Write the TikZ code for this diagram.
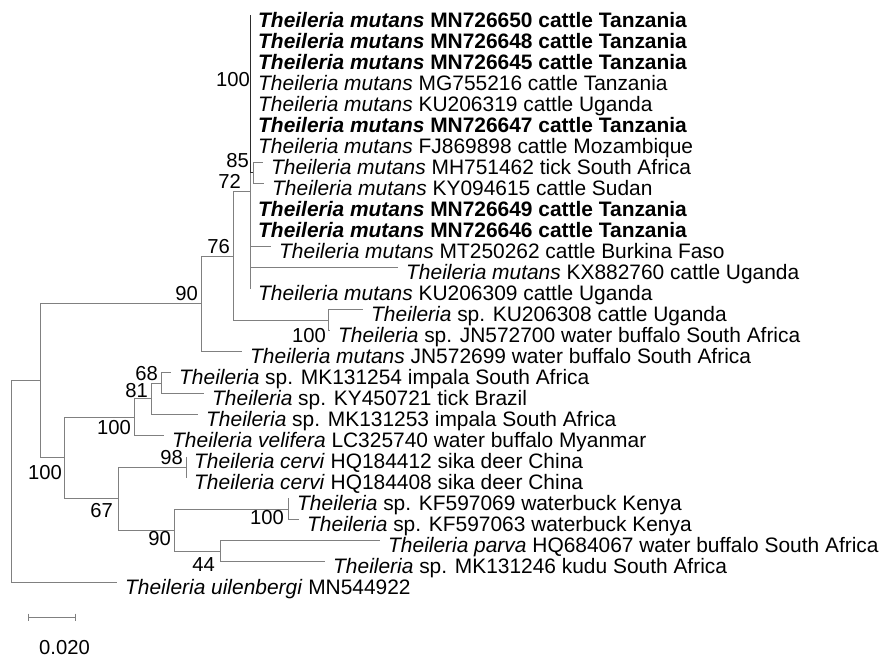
\documentclass[tikz,border=0pt]{standalone}
\usepackage{fontspec}
\setmainfont{Liberation Sans}
\definecolor{branch}{RGB}{128,128,128}
\definecolor{branchdark}{RGB}{45,45,45}
\tikzset{
  edge/.style={draw=branch, line width=1bp},
  darkedge/.style={draw=branchdark, line width=1bp},
  tiplabel/.style={anchor=base west, inner sep=0pt, font=\fontsize{21}{24}\selectfont, xshift=8bp, yshift=-12bp},
  boot/.style={anchor=base east, inner sep=0pt, font=\fontsize{20.3}{24}\selectfont},
}
\newcommand{\Th}[1]{\textit{#1}}
\begin{document}
\begin{tikzpicture}[x=1bp,y=-1bp]
\useasboundingbox (0,0) rectangle (879,658);
\fill[white] (0,0) rectangle (879,658);

% internal nodes
\coordinate (root) at (11,481);
\coordinate (nA) at (40,380);
\coordinate (n90) at (201,303);
\coordinate (n76) at (233,256);
\coordinate (n72) at (250,191);
\coordinate (n100a) at (250,94);
\coordinate (n85) at (253,172.5);
\coordinate (n100b) at (328,320);
\coordinate (nB) at (64,457.5);
\coordinate (n100c) at (134,417);
\coordinate (n81) at (151,398.5);
\coordinate (n68) at (161,383);
\coordinate (n67) at (118,498.5);
\coordinate (n98) at (186,467);
\coordinate (n90b) at (174,530);
\coordinate (n100d) at (288,509);
\coordinate (n44) at (220,551);

% tip branch ends
\coordinate (t1) at (250,15.5);
\coordinate (t2) at (250,36.5);
\coordinate (t3) at (250,57.5);
\coordinate (t4) at (250,78.5);
\coordinate (t5) at (250,99.5);
\coordinate (t6) at (250,120.5);
\coordinate (t7) at (250,141.5);
\coordinate (t8) at (263,162.5);
\coordinate (t9) at (264,183.5);
\coordinate (t10) at (250,204.5);
\coordinate (t11) at (250,225.5);
\coordinate (t12) at (271,246.5);
\coordinate (t13) at (398,267.5);
\coordinate (t14) at (250,288.5);
\coordinate (t15) at (363,309.5);
\coordinate (t16) at (330,330.5);
\coordinate (t17) at (242,351.5);
\coordinate (t18) at (171,372.5);
\coordinate (t19) at (204,393.5);
\coordinate (t20) at (198,414.5);
\coordinate (t21) at (164,435.5);
\coordinate (t22) at (186,456.5);
\coordinate (t23) at (186,477.5);
\coordinate (t24) at (289,498.5);
\coordinate (t25) at (299,519.5);
\coordinate (t26) at (380,540.5);
\coordinate (t27) at (325,561.5);
\coordinate (t28) at (117,582.5);

% branches
\draw[edge] (root) |- (nA);
\draw[edge] (root) |- (t28);
\draw[edge] (nA) |- (n90);
\draw[edge] (nA) |- (nB);
\draw[edge] (n90) |- (n76);
\draw[edge] (n90) |- (t17);
\draw[edge] (n76) |- (n72);
\draw[edge] (n76) |- (n100b);
\draw[edge] (n72) |- (n100a);
\foreach \t in {t10,t11,t12,t13,t14} \draw[edge] (n72) |- (\t);
\draw[edge] (n85) |- (t8);
\draw[edge] (n85) |- (t9);
\foreach \t in {t1,t2,t3,t4,t5,t6,t7} \draw[darkedge] (n100a) |- (\t);
\draw[darkedge] (n100a) |- (n85);
\draw[edge] (n100b) |- (t15);
\draw[edge] (n100b) |- (t16);
\draw[edge] (nB) |- (n100c);
\draw[edge] (nB) |- (n67);
\draw[edge] (n100c) |- (n81);
\draw[edge] (n100c) |- (t21);
\draw[edge] (n81) |- (n68);
\draw[edge] (n81) |- (t20);
\draw[edge] (n68) |- (t18);
\draw[edge] (n68) |- (t19);
\draw[edge] (n67) |- (n98);
\draw[edge] (n67) |- (n90b);
\draw[edge] (n98) |- (t22);
\draw[edge] (n98) |- (t23);
\draw[edge] (n90b) |- (n100d);
\draw[edge] (n90b) |- (n44);
\draw[edge] (n100d) |- (t24);
\draw[edge] (n100d) |- (t25);
\draw[edge] (n44) |- (t26);
\draw[edge] (n44) |- (t27);

% tip labels
\node[tiplabel] (l1) at (t1) {\textbf{\Th{Theileria mutans} MN726650 cattle Tanzania}};
\node[tiplabel] (l2) at (t2) {\textbf{\Th{Theileria mutans} MN726648 cattle Tanzania}};
\node[tiplabel] (l3) at (t3) {\textbf{\Th{Theileria mutans} MN726645 cattle Tanzania}};
\node[tiplabel] (l4) at (t4) {\Th{Theileria mutans} MG755216 cattle Tanzania};
\node[tiplabel] (l5) at (t5) {\Th{Theileria mutans} KU206319 cattle Uganda};
\node[tiplabel] (l6) at (t6) {\textbf{\Th{Theileria mutans} MN726647 cattle Tanzania}};
\node[tiplabel] (l7) at (t7) {\Th{Theileria mutans} FJ869898 cattle Mozambique};
\node[tiplabel] (l8) at (t8) {\Th{Theileria mutans} MH751462 tick South Africa};
\node[tiplabel] (l9) at (t9) {\Th{Theileria mutans} KY094615 cattle Sudan};
\node[tiplabel] (l10) at (t10) {\textbf{\Th{Theileria mutans} MN726649 cattle Tanzania}};
\node[tiplabel] (l11) at (t11) {\textbf{\Th{Theileria mutans} MN726646 cattle Tanzania}};
\node[tiplabel] (l12) at (t12) {\Th{Theileria mutans} MT250262 cattle Burkina Faso};
\node[tiplabel] (l13) at (t13) {\Th{Theileria mutans} KX882760 cattle Uganda};
\node[tiplabel] (l14) at (t14) {\Th{Theileria mutans} KU206309 cattle Uganda};
\node[tiplabel] (l15) at (t15) {\Th{Theileria} sp. KU206308 cattle Uganda};
\node[tiplabel] (l16) at (t16) {\Th{Theileria} sp. JN572700 water buffalo South Africa};
\node[tiplabel] (l17) at (t17) {\Th{Theileria mutans} JN572699 water buffalo South Africa};
\node[tiplabel] (l18) at (t18) {\Th{Theileria} sp. MK131254 impala South Africa};
\node[tiplabel] (l19) at (t19) {\Th{Theileria} sp. KY450721 tick Brazil};
\node[tiplabel] (l20) at (t20) {\Th{Theileria} sp. MK131253 impala South Africa};
\node[tiplabel] (l21) at (t21) {\Th{Theileria velifera} LC325740 water buffalo Myanmar};
\node[tiplabel] (l22) at (t22) {\Th{Theileria cervi} HQ184412 sika deer China};
\node[tiplabel] (l23) at (t23) {\Th{Theileria cervi} HQ184408 sika deer China};
\node[tiplabel] (l24) at (t24) {\Th{Theileria} sp. KF597069 waterbuck Kenya};
\node[tiplabel] (l25) at (t25) {\Th{Theileria} sp. KF597063 waterbuck Kenya};
\node[tiplabel] (l26) at (t26) {\Th{Theileria parva} HQ684067 water buffalo South Africa};
\node[tiplabel] (l27) at (t27) {\Th{Theileria} sp. MK131246 kudu South Africa};
\node[tiplabel] (l28) at (t28) {\Th{Theileria uilenbergi} MN544922};

% bootstrap values
\node[boot] (b100a) at (250,87) {100};
\node[boot] (b85) at (249,168) {85};
\node[boot] (b72) at (241,188) {72};
\node[boot] (b76) at (230,253) {76};
\node[boot] (b90) at (198,300) {90};
\node[boot] (b100b) at (326,342) {100};
\node[boot] (b68) at (158,380) {68};
\node[boot] (b81) at (148,397) {81};
\node[boot] (b100c) at (131,434) {100};
\node[boot] (b98) at (183,464) {98};
\node[boot] (b100r) at (62,479) {100};
\node[boot] (b67) at (113,517) {67};
\node[boot] (b90b) at (171,545) {90};
\node[boot] (b44) at (215,571) {44};
\node[boot] (b100d) at (284,524) {100};

% scale bar
\coordinate (sb1) at (28,617);
\coordinate (sb2) at (75,617);
\draw[edge] (sb1) -- (sb2);
\draw[edge] ([yshift=3.5bp]sb1) -- ([yshift=-3.5bp]sb1);
\draw[edge] ([yshift=3.5bp]sb2) -- ([yshift=-3.5bp]sb2);
\node[boot, anchor=base west] (sblabel) at (39,654) {0.020};
\end{tikzpicture}
\end{document}
